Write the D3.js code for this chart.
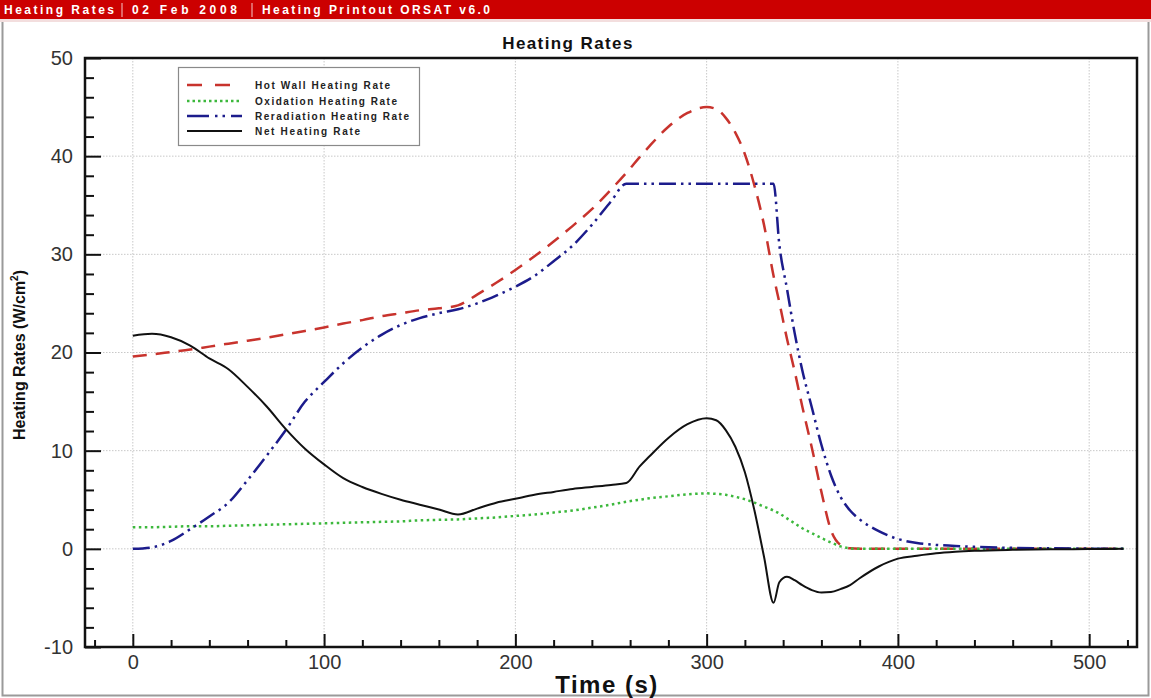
<!DOCTYPE html>
<html>
<head>
<meta charset="utf-8">
<script src="https://cdn.jsdelivr.net/npm/d3@7"></script>
<style>
  html, body { margin: 0; padding: 0; background: #fff; }
  svg { display: block; font-family: "Liberation Sans", Arial, sans-serif; }
</style>
</head>
<body>
<svg id="chart" width="1151" height="698"></svg>
<script>
// ---------------- data ----------------
const headerParts = ["Heating Rates", "02 Feb 2008", "Heating Printout ORSAT v6.0"];
const chartTitle = "Heating Rates";
const xTitle = "Time (s)";
const yTitle = "Heating Rates (W/cm";
const xTicks = [0, 100, 200, 300, 400, 500];
const yTicks = [-10, 0, 10, 20, 30, 40, 50];
const seriesNames = ["Hot Wall Heating Rate", "Oxidation Heating Rate", "Reradiation Heating Rate", "Net Heating Rate"];

const time = [0,10,20,30,40,50,60,70,80,90,100,110,120,130,140,150,160,170,180,190,200,210,220,230,240,250,258,265,270,280,290,300,305,310,315,320,325,330,335,338,342,346,350,355,360,365,370,375,380,390,400,410,420,430,440,460,480,500,518];

const hotWall = [19.6,19.8,20.05,20.3,20.6,20.9,21.2,21.5,21.85,22.2,22.55,22.95,23.3,23.7,24.0,24.3,24.5,24.8,25.9,27.1,28.4,29.8,31.3,32.9,34.6,36.6,38.3,39.9,41.0,43.0,44.4,45.0,44.8,43.9,42.4,40.2,37.0,33.0,27.8,25.1,21.4,18.1,14.5,10.3,5.8,1.9,0.4,0.05,0,0,0,0,0,0,0,0,0,0,0];

const oxidation = [2.2,2.2,2.25,2.3,2.3,2.35,2.4,2.45,2.5,2.55,2.6,2.65,2.7,2.75,2.8,2.9,2.95,3.0,3.1,3.2,3.35,3.5,3.7,3.9,4.2,4.5,4.8,5.0,5.15,5.35,5.55,5.65,5.6,5.5,5.3,5.05,4.7,4.3,3.9,3.6,3.1,2.6,2.1,1.6,1.1,0.65,0.25,0.05,0,0,0,0,0,0,0,0,0,0,0];

const reradiation = [0,0.15,0.8,2.0,3.3,4.7,7.0,9.5,12.1,15.0,17.0,18.9,20.5,21.8,22.8,23.5,24.0,24.4,25.0,25.8,26.7,27.8,29.3,30.9,33.0,35.4,37.2,37.2,37.2,37.2,37.2,37.2,37.2,37.2,37.2,37.2,37.2,37.2,37.2,31.0,26.5,22.0,18.2,14.4,10.6,7.5,5.3,3.9,3.0,1.8,1.0,0.6,0.4,0.3,0.2,0.1,0.05,0.02,0];

const net = [21.7,21.9,21.55,20.7,19.4,18.3,16.5,14.5,12.2,10.2,8.6,7.2,6.3,5.6,5.0,4.5,4.0,3.5,4.1,4.7,5.1,5.5,5.8,6.1,6.3,6.5,6.7,8.4,9.4,11.3,12.7,13.3,13.1,12.1,10.4,7.8,3.9,-0.8,-5.5,-3.4,-2.85,-3.2,-3.7,-4.2,-4.45,-4.4,-4.1,-3.7,-3.0,-1.8,-1.0,-0.7,-0.45,-0.3,-0.2,-0.1,-0.05,-0.02,0];

// ---------------- layout ----------------
const svg = d3.select("#chart");
const W = 1151, H = 698;
const L = 85, R = 1137, T = 58, B = 647;

const x = d3.scaleLinear().domain([-25, 525]).range([L, R]);
const y = d3.scaleLinear().domain([-10, 50]).range([B, T]);

// outer frame
svg.append("rect").attr("x", 0).attr("y", 0).attr("width", W).attr("height", H).attr("fill", "#fff");
svg.append("rect").attr("x", 2.5).attr("y", 19.5).attr("width", W - 5).attr("height", 676)
  .attr("fill", "none").attr("stroke", "#9a9a9a").attr("stroke-width", 2);
svg.append("rect").attr("x", 0).attr("y", 19).attr("width", W).attr("height", 3).attr("fill", "#f3dede");

// header bar
svg.append("rect").attr("x", 0).attr("y", 0).attr("width", W).attr("height", 19).attr("fill", "#cc0000");
const hdrX = [4, 132, 262];
const hdrLen = [110, 105, 228];
headerParts.forEach((t, i) => {
  svg.append("text").attr("x", hdrX[i]).attr("y", 14).attr("fill", "#fff")
    .attr("font-size", 12).attr("font-weight", "bold")
    .attr("textLength", hdrLen[i]).attr("lengthAdjust", "spacing").text(t);
});
[122, 252].forEach(sx => {
  svg.append("line").attr("x1", sx).attr("x2", sx).attr("y1", 3).attr("y2", 17)
    .attr("stroke", "#f6caca").attr("stroke-width", 1);
});

// title
svg.append("text").attr("x", 568).attr("y", 49).attr("text-anchor", "middle")
  .attr("font-size", 17).attr("font-weight", "bold").attr("letter-spacing", 1.4)
  .attr("fill", "#111").text(chartTitle);

// grid
const grid = svg.append("g");
grid.selectAll(".gx").data(xTicks).join("line")
  .attr("x1", d => x(d)).attr("x2", d => x(d)).attr("y1", T).attr("y2", B)
  .attr("stroke", "#c8c8c8").attr("stroke-width", 1).attr("stroke-dasharray", "1.5,1.5");
grid.selectAll(".gy").data(yTicks.filter(v => v > -10 && v < 50)).join("line")
  .attr("x1", L).attr("x2", R).attr("y1", d => y(d)).attr("y2", d => y(d))
  .attr("stroke", "#c8c8c8").attr("stroke-width", 1).attr("stroke-dasharray", "1.5,1.5");

// axes
const xMinor = d3.range(-20, 521, 20).filter(v => v % 100 !== 0);
const yMinor = d3.range(-8, 50, 2).filter(v => v % 10 !== 0);

svg.append("g").attr("transform", `translate(0,${B})`)
  .call(d3.axisBottom(x).tickValues(xTicks).tickSize(-13).tickPadding(8).tickFormat(d => String(d)));
svg.append("g").attr("transform", `translate(0,${B})`)
  .call(d3.axisBottom(x).tickValues(xMinor).tickSize(-7).tickFormat(""));
svg.append("g").attr("transform", `translate(${L},0)`)
  .call(d3.axisLeft(y).tickValues(yTicks).tickSize(-16).tickPadding(12).tickFormat(d => String(d)));
svg.append("g").attr("transform", `translate(${L},0)`)
  .call(d3.axisLeft(y).tickValues(yMinor).tickSize(-9).tickFormat(""));

svg.selectAll(".domain").remove();
svg.selectAll(".tick line").attr("stroke", "#111").attr("stroke-width", 2);
svg.selectAll(".tick text").attr("font-size", 20).attr("fill", "#333")
  .attr("font-family", "'Liberation Sans', Arial, sans-serif");

// frame
svg.append("rect").attr("x", L).attr("y", T).attr("width", R - L).attr("height", B - T)
  .attr("fill", "none").attr("stroke", "#111").attr("stroke-width", 2.5);

// axis titles
svg.append("text").attr("x", 607).attr("y", 693).attr("text-anchor", "middle")
  .attr("font-size", 24).attr("font-weight", "bold").attr("letter-spacing", 1.5)
  .attr("fill", "#111").text(xTitle);

const yt = svg.append("text").attr("transform", "translate(25,355) rotate(-90)")
  .attr("text-anchor", "middle").attr("font-size", 16).attr("font-weight", "bold")
  .attr("fill", "#111");
yt.append("tspan").text(yTitle);
yt.append("tspan").attr("font-size", 10).attr("dy", -7).text("2");
yt.append("tspan").attr("dy", 7).text(")");

// clip
svg.append("clipPath").attr("id", "clip").append("rect")
  .attr("x", L).attr("y", T).attr("width", R - L).attr("height", B - T);

const styles = [
  { values: hotWall, color: "#c8332d", dash: "14,9", width: 2.5 },
  { values: oxidation, color: "#3cb83c", dash: "2.5,3.5", width: 2.5 },
  { values: reradiation, color: "#1c1c8c", dash: "17,5,2.5,5,2.5,5", width: 2.5 },
  { values: net, color: "#111111", dash: null, width: 2 }
];

const line = d3.line().x(d => x(d[0])).y(d => y(d[1])).curve(d3.curveMonotoneX);
const plot = svg.append("g").attr("clip-path", "url(#clip)");
styles.forEach(s => {
  plot.append("path").datum(time.map((t, i) => [t, s.values[i]]))
    .attr("d", line).attr("fill", "none").attr("stroke", s.color)
    .attr("stroke-width", s.width).attr("stroke-dasharray", s.dash)
    .attr("stroke-linejoin", "round");
});

// legend
const lg = svg.append("g");
lg.append("rect").attr("x", 178.5).attr("y", 67.5).attr("width", 241).attr("height", 78)
  .attr("fill", "#fff").attr("stroke", "#8a8a8a").attr("stroke-width", 1.2);
const legendY = [85, 101, 116, 131];
const legendLen = [135, 142, 154, 105];
const legendDash = ["15,13", "2.5,3", "22,6,2.5,5,2.5,6", null];
seriesNames.forEach((n, i) => {
  lg.append("line").attr("x1", 187).attr("x2", 242).attr("y1", legendY[i]).attr("y2", legendY[i])
    .attr("stroke", styles[i].color).attr("stroke-width", i === 3 ? 2 : 2.5)
    .attr("stroke-dasharray", legendDash[i]);
  lg.append("text").attr("x", 255).attr("y", legendY[i] + 3.5)
    .attr("font-size", 10).attr("font-weight", "bold").attr("fill", "#222")
    .attr("textLength", legendLen[i]).attr("lengthAdjust", "spacing")
    .text(n);
});
</script>
</body>
</html>
